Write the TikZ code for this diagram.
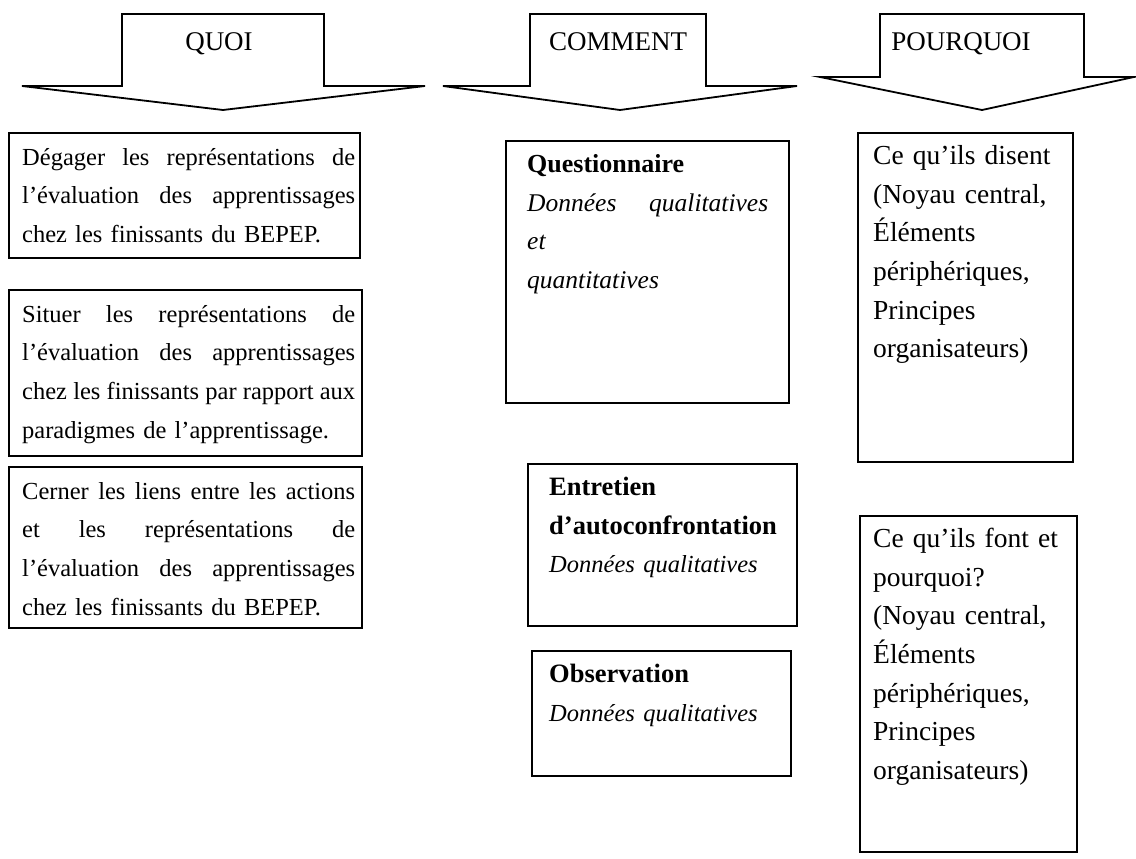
\documentclass[tikz,border=0pt]{standalone}
\usepackage{fontspec}
\setmainfont{Liberation Serif}
\usetikzlibrary{positioning}

% a line stretched to the full width, as in justified text
\newcommand{\fullline}[2]{\makebox[#1][s]{\spaceskip=0pt\xspaceskip=0pt\relax #2}}

\begin{document}
\begin{tikzpicture}[x=1pt,y=-1pt,line join=miter,
    box/.style={draw,line width=1.8pt,anchor=north west,inner sep=0pt,outer sep=0pt},
    txt/.style={anchor=north west,inner sep=0pt,align=left},
    quoitxt/.style={txt,font=\fontsize{24.5}{38.6}\selectfont},
    commtxt/.style={txt,font=\fontsize{25.5}{38.6}\selectfont},
    pourtxt/.style={txt,font=\fontsize{27.5}{38.6}\selectfont},
    hdr/.style={anchor=base,inner sep=0pt,font=\fontsize{27}{30}\selectfont},
    bigarrow/.style={draw,line width=1.8pt}]
  \useasboundingbox (0,0) rectangle (1136,859);

  % the three arrows
  \draw [bigarrow] (22,86) -- (122,86) -- (122,14) -- (324,14) -- (324,86) -- (425,86) -- (223,110) -- cycle;
  \draw [bigarrow] (443,86) -- (530,86) -- (530,14) -- (706,14) -- (706,86) -- (797,86) -- (620,110) -- cycle;
  \draw [bigarrow] (820,77) -- (880,77) -- (880,14) -- (1084,14) -- (1084,77) -- (1134,77) -- (982,110) -- cycle;
  \node (quoi) at (219,50.5) [hdr] {QUOI};
  \node (comment) at (618,50.5) [hdr] {COMMENT};
  \node (pourquoi) at (961,50.5) [hdr] {POURQUOI};

  % QUOI
  \node (q1) at (9,133) [box,minimum width=351pt,minimum height=125pt] {};
  \node (q2) at (9,290) [box,minimum width=353pt,minimum height=166pt] {};
  \node (q3) at (9,467) [box,minimum width=353pt,minimum height=161pt] {};
  \node (q1t) [quoitxt,text width=335pt,below right=5pt and 13pt of q1.north west]
    {\strut\fullline{333pt}{Dégager les représentations de}\\
     \fullline{333pt}{l’évaluation des apprentissages}\\
     chez les finissants du BEPEP.};
  \node (q2t) [quoitxt,text width=335pt,below right=5pt and 13pt of q2.north west]
    {\strut\fullline{333pt}{Situer les représentations de}\\
     \fullline{333pt}{l’évaluation des apprentissages}\\
     \fullline{333pt}{chez les finissants par rapport aux}\\
     paradigmes de l’apprentissage.};
  \node (q3t) [quoitxt,text width=335pt,below right=5pt and 13pt of q3.north west]
    {\strut\fullline{333pt}{Cerner les liens entre les actions}\\
     \fullline{333pt}{et les représentations de}\\
     \fullline{333pt}{l’évaluation des apprentissages}\\
     chez les finissants du BEPEP.};

  % COMMENT
  \node (c1) at (506,141) [box,minimum width=283pt,minimum height=262pt] {};
  \node (c2) at (528,464) [box,minimum width=269pt,minimum height=162pt] {};
  \node (c3) at (532,651) [box,minimum width=259pt,minimum height=125pt] {};
  \node (c1t) [commtxt,text width=241pt,below right=4.5pt and 21pt of c1.north west]
    {\strut{\fontsize{26}{38.6}\selectfont\bfseries Questionnaire}\\
     \itshape\fullline{241pt}{Données qualitatives}\\
     et\\
     quantitatives};
  \node (c2t) [commtxt,text width=245pt,below right=4.5pt and 21pt of c2.north west]
    {\strut{\fontsize{26.5}{38.6}\selectfont\bfseries Entretien}\\
     {\fontsize{26.5}{38.6}\selectfont\bfseries d’autoconfrontation}\\
     {\fontsize{24.5}{38.6}\selectfont\itshape Données qualitatives}};
  \node (c3t) [commtxt,text width=240pt,below right=4.5pt and 17pt of c3.north west]
    {\strut{\fontsize{26.5}{38.6}\selectfont\bfseries Observation}\\
     {\fontsize{24.5}{38.6}\selectfont\itshape Données qualitatives}};

  % POURQUOI
  \node (p1) at (858,133) [box,minimum width=215pt,minimum height=329pt] {};
  \node (p2) at (860,516) [box,minimum width=217pt,minimum height=336pt] {};
  \node (p1t) [pourtxt,text width=195pt,below right=4.5pt and 15pt of p1.north west]
    {\strut Ce qu’ils disent\\
     (Noyau central,\\
     Éléments\\
     périphériques,\\
     Principes\\
     organisateurs)};
  \node (p2t) [pourtxt,text width=195pt,below right=4.5pt and 13pt of p2.north west]
    {\strut Ce qu’ils font et\\
     pourquoi?\\
     (Noyau central,\\
     Éléments\\
     périphériques,\\
     Principes\\
     organisateurs)};
\end{tikzpicture}
\end{document}
